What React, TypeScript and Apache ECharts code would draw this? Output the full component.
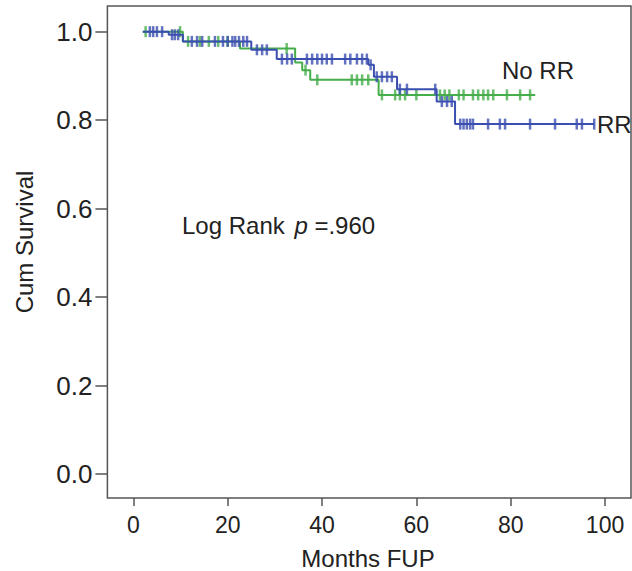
import React, { useEffect, useRef } from "react";
import * as echarts from "echarts";

// Kaplan-Meier steps: [months, cumulative survival after the event]
const rrSteps: [number, number][] = [
  [2, 1.0], [7.5, 0.993], [10.5, 0.978], [25, 0.959], [30.4, 0.938],
  [49.8, 0.925], [51, 0.898], [55.9, 0.87], [64.3, 0.842], [68.2, 0.791], [97.7, 0.791],
];
const noRrSteps: [number, number][] = [
  [2, 1.0], [10.5, 0.978], [22.6, 0.962], [34.3, 0.93], [35.8, 0.913],
  [37.5, 0.891], [52, 0.857], [85.2, 0.857],
];
// Censored observations (months)
const rrCensored: number[] = [
  3.5, 4.2, 5.0, 6.1, 8.2, 8.8, 9.5, 12.4, 13.5, 14.6, 17.3, 19, 20, 21, 21.6, 22.4, 23.3, 24.1,
  26.2, 27.3, 28.3, 31.5, 32.6, 33.6, 36.8, 37.9, 39, 40, 41, 42.1, 44.9, 46, 47.4, 48.5, 49.5,
  50.3, 51.6, 52.7, 53.8, 54.8, 56.5, 58, 64, 65.4, 66.5, 67.5, 69.3, 70, 70.7, 71.4, 72,
  75.2, 77.7, 78.8, 84.1, 89.4, 94, 95.1, 97.7,
];
const noRrCensored: number[] = [
  2.6, 9.9, 11.6, 14.1, 16, 18, 20, 32.5, 36.5, 39, 46.3, 47.4, 48.5, 49.8, 52.7, 55.5, 56.5,
  57.6, 60, 65, 66, 67, 69, 70, 72, 73.1, 74.2, 75.2, 76.3, 79.2, 82, 84.1,
];
const xTicks = [0, 20, 40, 60, 80, 100];
const yTicks = [0, 0.2, 0.4, 0.6, 0.8, 1.0];
const xRange = [-5.5, 105.5];
const yRange = [-0.0543, 1.058];
const groupNames = ["RR", "No RR"];
const xTitle = "Months FUP";
const yTitle = "Cum Survival";

const BLUE = "#3b4fb0";
const GREEN = "#45ad4a";
const FONT = "'Liberation Sans', Arial, sans-serif";

function survAt(steps: [number, number][], t: number): number {
  let s = steps[0][1];
  for (const [x, v] of steps) {
    if (x <= t) s = v;
  }
  return s;
}

export default function App() {
  const ref = useRef<HTMLDivElement>(null);
  useEffect(() => {
    if (!ref.current) return;
    const chart = echarts.init(ref.current, null, { renderer: "svg" });
    const option: any = {
      animation: false,
      backgroundColor: "#ffffff",
      grid: {
        left: 107.4,
        right: 1,
        top: 6,
        bottom: 73,
        containLabel: false,
        show: true,
        borderColor: "#555",
        borderWidth: 1.5,
        backgroundColor: "transparent",
      },
      xAxis: {
        type: "value",
        min: xRange[0],
        max: xRange[1],
        axisLine: { show: false, onZero: false },
        axisTick: {
          show: true,
          length: 8,
          customValues: xTicks,
          lineStyle: { color: "#555", width: 1.5 },
        },
        axisLabel: {
          customValues: xTicks,
          margin: 15,
          fontSize: 23,
          color: "#222",
          fontFamily: FONT,
        },
        splitLine: { show: false },
      },
      yAxis: {
        type: "value",
        min: yRange[0],
        max: yRange[1],
        axisLine: { show: false, onZero: false },
        axisTick: {
          show: true,
          length: 12,
          customValues: yTicks,
          lineStyle: { color: "#555", width: 1.5 },
        },
        axisLabel: {
          customValues: yTicks,
          margin: 15,
          fontSize: 26,
          color: "#222",
          fontFamily: FONT,
          formatter: (v: number) => v.toFixed(1),
        },
        splitLine: { show: false },
      },
      graphic: [
        {
          type: "text",
          x: 368,
          y: 558,
          style: { text: xTitle, fontSize: 24, fill: "#222", fontFamily: FONT, align: "center", verticalAlign: "middle" },
        },
        {
          type: "text",
          x: 24,
          y: 242,
          rotation: Math.PI / 2,
          style: { text: yTitle, fontSize: 24, fill: "#222", fontFamily: FONT, align: "center", verticalAlign: "middle" },
        },
        {
          type: "text",
          x: 182,
          y: 225,
          style: {
            text: "{a|Log Rank }{p|p}{a| =.960}",
            verticalAlign: "middle",
            rich: {
              a: { fontSize: 24, fill: "#222", fontFamily: FONT },
              p: { fontSize: 24, fill: "#222", fontFamily: FONT, fontStyle: "italic", padding: [0, 0, 0, 3] },
            },
          },
        },
        {
          type: "text",
          x: 502,
          y: 70,
          style: { text: groupNames[1], fontSize: 24, fill: "#222", fontFamily: FONT, verticalAlign: "middle" },
        },
        {
          type: "text",
          x: 597,
          y: 124,
          style: { text: groupNames[0], fontSize: 24, fill: "#222", fontFamily: FONT, verticalAlign: "middle" },
        },
      ],
      series: [
        {
          name: groupNames[1],
          type: "line",
          step: "end",
          showSymbol: false,
          data: noRrSteps,
          lineStyle: { color: GREEN, width: 2 },
          itemStyle: { color: GREEN },
          z: 2,
        },
        {
          name: groupNames[1] + " censored",
          type: "scatter",
          symbol: "rect",
          symbolSize: [2.5, 11],
          data: noRrCensored.map((t) => [t, survAt(noRrSteps, t)]),
          itemStyle: { color: GREEN },
          z: 2,
        },
        {
          name: groupNames[0],
          type: "line",
          step: "end",
          showSymbol: false,
          data: rrSteps,
          lineStyle: { color: BLUE, width: 2 },
          itemStyle: { color: BLUE },
          z: 3,
        },
        {
          name: groupNames[0] + " censored",
          type: "scatter",
          symbol: "rect",
          symbolSize: [2.5, 11],
          data: rrCensored.map((t) => [t, survAt(rrSteps, t)]),
          itemStyle: { color: BLUE },
          z: 3,
        },
      ],
    };
    chart.setOption(option);
    return () => chart.dispose();
  }, []);
  return (
    <div
      ref={ref}
      style={{ position: "fixed", left: 0, top: 0, width: 632, height: 571, background: "#fff" }}
    />
  );
}
